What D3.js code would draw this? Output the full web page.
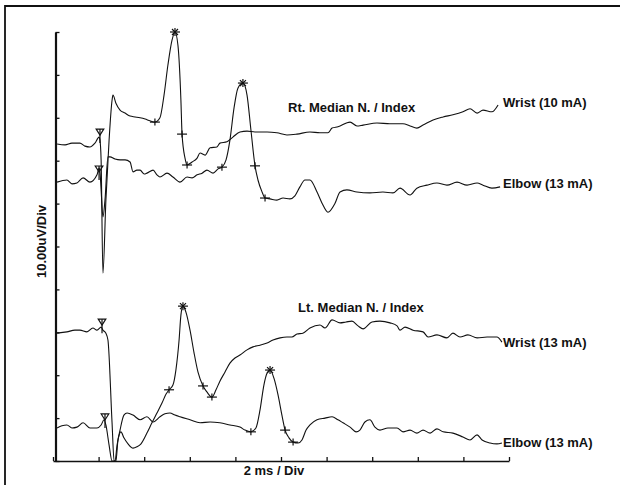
<!DOCTYPE html>
<html><head><meta charset="utf-8">
<script src="https://cdn.jsdelivr.net/npm/d3@7"></script>
<style>body{margin:0;background:#fff}svg{display:block}</style>
</head><body>
<svg id="c" width="620" height="485"></svg>
<script>
// time in ms, amplitude in uV on the 10 uV/Div display grid
const rtWrist = [[0.18,73.9],[0.53,73.7],[0.83,74.1],[1.18,74.1],[1.40,73.4],[1.62,73.2],[1.84,74.1],[2.02,75.5],[2.06,74.8],[2.11,70.2],[2.19,43.8],[2.32,60.8],[2.46,74.8],[2.59,84.1],[2.63,85.3],[2.76,83.4],[2.94,81.8],[3.16,81.1],[3.38,80.4],[3.60,80.2],[3.82,80.0],[4.04,79.7],[4.25,79.3],[4.47,79.0],[4.69,80.0],[4.87,85.3],[5.04,92.3],[5.22,98.1],[5.35,100],[5.48,96.9],[5.61,84.1],[5.66,76.2],[5.79,70.6],[5.88,69.0],[6.10,69.7],[6.32,70.6],[6.45,71.8],[6.67,71.3],[6.89,73.0],[7.19,73.2],[7.32,74.1],[7.63,74.4],[7.89,75.5],[8.20,76.7],[8.51,76.9],[8.86,76.7],[9.39,76.7],[9.82,76.5],[10.26,76.0],[10.70,76.2],[11.27,76.7],[11.71,76.5],[12.06,76.5],[12.24,77.6],[12.50,77.9],[13.03,79.0],[13.33,78.1],[13.60,78.3],[14.21,78.8],[14.78,78.6],[15.35,78.6],[15.66,78.1],[15.96,77.6],[16.23,78.3],[16.67,79.5],[17.11,80.2],[17.54,80.7],[17.98,81.4],[18.29,82.1],[18.60,81.1],[18.86,81.8],[19.25,81.4],[19.52,83.0]];
const rtElbow = [[0.18,65.0],[0.61,65.5],[0.83,64.6],[1.05,64.8],[1.32,66.0],[1.62,65.0],[1.93,66.7],[2.02,68.3],[2.06,67.4],[2.11,63.2],[2.19,56.9],[2.28,60.8],[2.41,70.9],[2.50,70.9],[2.72,70.4],[2.94,70.2],[3.16,70.2],[3.38,69.7],[3.51,67.4],[3.68,67.8],[3.82,67.8],[4.00,66.9],[4.12,67.1],[4.39,67.8],[4.56,66.7],[4.69,66.2],[5.00,67.1],[5.26,66.2],[5.57,65.0],[5.88,66.2],[6.10,66.0],[6.32,66.7],[6.54,67.1],[6.75,67.8],[7.02,67.1],[7.24,68.1],[7.41,68.5],[7.59,70.2],[7.76,74.8],[7.94,82.3],[8.11,86.9],[8.33,88.1],[8.51,85.3],[8.68,77.2],[8.86,68.8],[8.99,65.5],[9.17,62.7],[9.30,61.3],[9.52,61.1],[9.82,60.8],[10.09,61.3],[10.39,61.1],[10.61,61.8],[10.83,63.9],[11.05,65.5],[11.27,65.5],[11.58,62.7],[11.80,60.1],[12.06,58.0],[12.37,60.1],[12.59,62.7],[12.89,63.2],[13.33,62.7],[13.90,62.5],[14.47,62.7],[14.91,62.5],[15.22,63.6],[15.66,62.0],[15.96,63.6],[16.40,64.3],[16.84,64.8],[17.28,64.3],[17.72,65.0],[18.16,64.3],[18.60,64.8],[18.86,64.3],[19.25,63.6],[19.61,63.9]];
const ltWrist = [[0.18,29.8],[0.61,30.1],[0.96,30.5],[1.18,30.5],[1.49,30.1],[1.75,31.0],[1.93,30.5],[2.11,31.2],[2.19,30.5],[2.32,29.8],[2.41,28.2],[2.59,8.9],[2.68,0],[2.76,0],[2.85,4.9],[2.98,6.8],[3.11,5.4],[3.29,4.0],[3.51,3.0],[3.68,3.3],[3.86,4.0],[4.12,6.5],[4.34,8.9],[4.56,11.2],[4.78,13.5],[4.96,15.6],[5.09,16.6],[5.26,17.7],[5.39,21.2],[5.53,28.2],[5.61,34.0],[5.70,36.1],[5.83,34.7],[6.01,30.5],[6.18,25.4],[6.36,20.7],[6.58,17.5],[6.75,16.1],[6.97,14.9],[7.15,16.6],[7.32,18.6],[7.54,20.7],[7.76,22.8],[7.98,24.0],[8.20,24.7],[8.51,25.9],[8.77,26.6],[9.08,27.0],[9.39,27.5],[9.65,28.2],[9.96,28.7],[10.26,28.9],[10.48,28.9],[10.70,29.6],[10.96,29.8],[11.27,31.0],[11.71,31.7],[11.93,31.0],[12.24,32.9],[12.59,32.2],[12.85,32.4],[13.11,32.6],[13.38,31.5],[13.60,30.8],[13.99,32.4],[14.34,32.6],[14.78,32.2],[15.09,31.5],[15.22,30.5],[15.44,31.2],[15.79,30.5],[16.23,30.1],[16.45,28.9],[16.84,29.4],[17.28,28.7],[17.54,29.8],[17.85,28.9],[18.20,29.4],[18.60,28.7],[19.04,28.9],[19.47,28.9],[19.69,27.7]];
const ltElbow = [[0.18,7.7],[0.39,8.2],[0.61,8.4],[0.83,7.7],[1.05,7.9],[1.32,8.9],[1.62,7.7],[1.93,7.7],[2.11,8.4],[2.24,9.6],[2.32,8.4],[2.46,3.7],[2.59,0],[2.72,0],[2.81,3.7],[2.94,7.2],[3.11,10.7],[3.25,11.2],[3.51,10.7],[3.82,9.6],[4.12,10.3],[4.39,9.1],[4.69,10.3],[4.91,11.0],[5.13,11.2],[5.35,10.7],[5.57,10.3],[6.01,9.6],[6.45,8.9],[6.89,9.1],[7.32,8.9],[7.76,8.4],[8.20,7.9],[8.42,7.2],[8.68,6.8],[8.90,7.7],[9.08,11.9],[9.25,17.7],[9.39,20.5],[9.52,21.2],[9.69,19.3],[9.87,15.4],[10.04,10.7],[10.18,7.2],[10.35,5.4],[10.53,4.4],[10.75,4.2],[10.92,4.9],[11.10,7.2],[11.27,8.4],[11.58,9.6],[11.93,10.0],[12.24,10.3],[12.50,9.6],[12.72,8.9],[13.03,7.9],[13.29,6.8],[13.46,7.2],[13.68,9.1],[13.90,9.6],[14.12,7.9],[14.34,7.2],[14.69,7.7],[15.09,7.7],[15.35,6.8],[15.66,7.2],[15.96,6.5],[16.23,7.2],[16.54,6.5],[16.84,7.5],[17.11,6.8],[17.54,6.5],[17.98,5.6],[18.29,4.9],[18.60,6.1],[18.82,4.9],[19.17,4.2],[19.47,4.0],[19.69,4.2]];

const rtWristMarks = [["tri",2.06,74.8],["plus",4.47,79.0],["star",5.35,100],["plus",5.66,76.2],["plus",5.88,69.0]];
const rtElbowMarks = [["tri",2.02,66.2],["plus",7.41,68.5],["star",8.33,88.1],["plus",8.86,68.8],["plus",9.30,61.3]];
const ltWristMarks = [["tri",2.15,30.5],["plus",5.09,16.6],["star",5.70,36.1],["plus",6.58,17.5],["plus",6.97,14.9]];
const ltElbowMarks = [["tri",2.28,8.4],["plus",8.68,6.8],["star",9.52,21.2],["plus",10.18,7.2],["plus",10.53,4.4]];

const traceLabels = ["Wrist (10 mA)","Elbow (13 mA)","Wrist (13 mA)","Elbow (13 mA)"];
const labelLevels = [83.4, 64.6, 27.5, 4.2];
const groupTitles = ["Rt. Median N. / Index","Lt. Median N. / Index"];
const titleAnchors = [[10.31,81.4],[10.75,34.7]];
const xTickValues = d3.range(0, 21, 2);
const yTickValues = d3.range(0, 101, 10);
const xTitle = "2 ms / Div";
const yTitle = "10.00uV/Div";

const svg = d3.select("#c");
const x = d3.scaleLinear().domain([0, 20]).range([53, 509]);
const y = d3.scaleLinear().domain([0, 100]).range([461, 32]);
const font = "'Liberation Sans', Arial, Helvetica, sans-serif";

// frame (extends past the picture on right and bottom)
svg.append("path").attr("d", "M5,490 L5,6 L625,6")
  .attr("fill","none").attr("stroke","#111").attr("stroke-width",1.8);

// axes
const xAxis = svg.append("g").attr("transform","translate(0,461)")
  .call(d3.axisTop(x).tickValues(xTickValues).tickSize(4).tickSizeOuter(0).tickFormat(""));
xAxis.select(".domain").attr("stroke","#111").attr("stroke-width",1.4);
xAxis.selectAll(".tick line").attr("stroke","#111").attr("stroke-width",1.3);

const yAxis = svg.append("g").attr("transform","translate(55.5,0)")
  .call(d3.axisRight(y).tickValues(yTickValues).tickSize(4).tickSizeOuter(0).tickFormat(""));
yAxis.select(".domain").attr("stroke","#111").attr("stroke-width",2.2);
yAxis.selectAll(".tick line").attr("stroke","#111").attr("stroke-width",1.3);

// traces
const line = d3.line().x(d => x(d[0])).y(d => y(d[1])).curve(d3.curveMonotoneX);
const series = [rtWrist, rtElbow, ltWrist, ltElbow];
const marks = [rtWristMarks, rtElbowMarks, ltWristMarks, ltElbowMarks];
series.forEach(s => {
  svg.append("path").attr("d", line(s)).attr("fill","none")
    .attr("stroke","#111").attr("stroke-width",1.1).attr("stroke-linejoin","round");
});

// markers
marks.forEach(ms => {
  ms.forEach(([type, t, v]) => {
    const cx = x(t), cy = y(v);
    const g = svg.append("g").attr("stroke","#111").attr("fill","none").attr("stroke-width",1.2);
    if (type === "tri") {
      g.append("path").attr("d", `M${cx-3.8},${cy-11} L${cx+3.8},${cy-11} L${cx},${cy-5} Z`);
      g.append("line").attr("x1",cx).attr("x2",cx).attr("y1",cy-11).attr("y2",cy+3);
    } else if (type === "plus") {
      g.append("line").attr("x1",cx-5).attr("x2",cx+5).attr("y1",cy).attr("y2",cy);
      g.append("line").attr("x1",cx).attr("x2",cx).attr("y1",cy-3.5).attr("y2",cy+3.5);
    } else {
      g.append("line").attr("x1",cx-5).attr("x2",cx+5).attr("y1",cy).attr("y2",cy);
      g.append("line").attr("x1",cx).attr("x2",cx).attr("y1",cy-4).attr("y2",cy+4);
      g.append("line").attr("x1",cx-3).attr("x2",cx+3).attr("y1",cy-3).attr("y2",cy+3);
      g.append("line").attr("x1",cx-3).attr("x2",cx+3).attr("y1",cy+3).attr("y2",cy-3);
    }
  });
});

// trace labels at right
traceLabels.forEach((lab, i) => {
  svg.append("text").attr("x", x(19.65) + 2).attr("y", y(labelLevels[i]) + 4)
    .attr("font-family", font).attr("font-weight","bold").attr("font-size",13)
    .attr("fill","#111").text(lab);
});

// group titles
groupTitles.forEach((t, i) => {
  svg.append("text").attr("x", x(titleAnchors[i][0])).attr("y", y(titleAnchors[i][1]))
    .attr("font-family", font).attr("font-weight","bold").attr("font-size",13)
    .attr("fill","#111").text(t);
});

// axis titles
svg.append("text").attr("x", 274).attr("y", 475).attr("text-anchor","middle")
  .attr("font-family", font).attr("font-weight","bold").attr("font-size",13)
  .attr("fill","#111").text(xTitle);
svg.append("text").attr("transform","translate(45.5,278) rotate(-90)")
  .attr("font-family", font).attr("font-weight","bold").attr("font-size",13)
  .attr("fill","#111").text(yTitle);
</script>
</body></html>
